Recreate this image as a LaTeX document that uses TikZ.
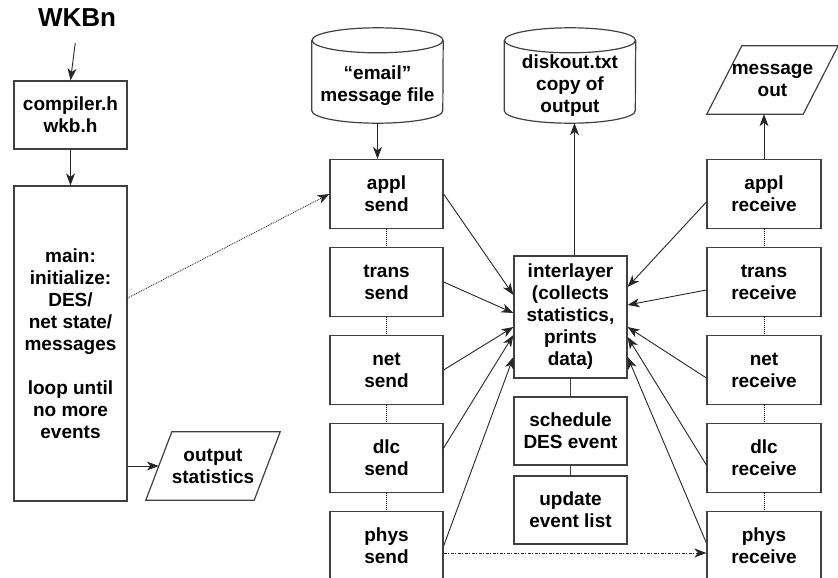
\documentclass[tikz,border=0pt]{standalone}
\usepackage{fontspec}
\setmainfont{Liberation Sans}
\usetikzlibrary{shapes.geometric,arrows.meta}
\begin{document}
\begin{tikzpicture}[x=1pt,y=-1pt]
	\tikzstyle{every node}=[font=\fontsize{19}{22}\selectfont\bfseries,align=center,inner sep=2pt]
	\tikzstyle{box}=[draw=black!75,line width=1.2pt,rectangle,minimum width=113pt,minimum height=69pt]
	\tikzstyle{io}=[rectangle,minimum height=68pt]
	\tikzstyle{store}=[rectangle,minimum width=131pt,minimum height=70pt]
	\tikzstyle{frame}=[draw=black!75,line width=1.2pt]
	\tikzstyle{flow}=[draw=black!85,line width=0.9pt,-{Stealth[length=12pt,width=9pt,inset=3.5pt]}]
	\tikzstyle{link}=[draw=black,line width=1pt,densely dotted]
	\useasboundingbox (0,0) rectangle (838,578);
	\node[font=\fontsize{26}{30}\selectfont\bfseries] (wkbn) at (77,18) {WKBn};
	\node[box,minimum height=68pt] (comp) at (70.5,115) {compiler.h\\wkb.h};
	\node[box,minimum height=315pt] (main) at (70.5,343.5) {main:\\initialize:\\DES/\\net state/\\messages\\[22pt]loop until\\no more\\events};
	\node[io,minimum width=108pt] (outstat) at (213,466) {output\\statistics};
	\draw[frame] ([xshift=-13pt]outstat.south west) -- ([xshift=13pt]outstat.north west) -- ([xshift=13pt]outstat.north east) -- ([xshift=-13pt]outstat.south east) -- cycle;
	\node[io,minimum width=96pt] (msgout) at (772.5,80) {message\\out};
	\draw[frame] ([xshift=-17.5pt]msgout.south west) -- ([xshift=17.5pt]msgout.north west) -- ([xshift=17.5pt]msgout.north east) -- ([xshift=-17.5pt]msgout.south east) -- cycle;
	\foreach \db/\x in {email/377.5,disk/570} {
		\node[store] (\db) at (\x,75.5) {};
		\draw[frame] (\db.north) ellipse [x radius=65.5pt,y radius=12.5pt];
		\draw[frame] (\db.north west) -- (\db.south west) arc [start angle=180,end angle=360,x radius=65.5pt,y radius=12.5pt] -- (\db.north east);
		\coordinate (\db-bot) at ([yshift=-12.5pt]\db.south);
	}
	\node (email-txt) at ([yshift=-10.5pt]email.center) {“email”\\message file};
	\node (disk-txt) at ([yshift=-10.5pt]disk.center) {diskout.txt\\copy of\\output};
	\foreach \lay [count=\i from 0] in {appl,trans,net,dlc,phys} {
		\node[box] (\lay-send) at (386.5,194+88*\i) {\lay\\send};
		\node[box,minimum width=114pt] (\lay-recv) at (764,194+88*\i) {\lay\\receive};
	}
	\node[box,minimum height=122pt] (inter) at (570.5,317) {interlayer\\(collects\\statistics,\\prints\\data)};
	\node[box,minimum height=68pt] (sched) at (570.5,431) {schedule\\DES event};
	\node[box,minimum height=68pt] (upd) at (570.5,510) {update\\event list};

	\draw[flow,shorten <=14pt] (wkbn.south) -- (comp.north);
	\draw[flow] (comp.south) -- (main.north);
	\draw[flow] (main.east |- outstat.west) -- (outstat.west);
	\draw[flow] (email-bot) -- (email-bot |- appl-send.north);
	\draw[flow] ([xshift=4pt]inter.north) -- ([xshift=4pt]inter.north |- disk-bot);
	\draw[flow] (appl-recv.north) -- (appl-recv.north |- msgout.south);
	\draw[flow,densely dotted] ([yshift=45.5pt]main.east) -- (appl-send.west);

	\foreach \a/\b in {appl/trans,trans/net,net/dlc,dlc/phys} {
		\draw[link] (\a-send.south) -- (\b-send.north);
		\draw[link] (\a-recv.south) -- (\b-recv.north);
	}
	\draw[draw=black!75,line width=1pt] (inter.south) -- (sched.north);
	\draw[draw=black!75,line width=1pt] (sched.south) -- (upd.north);

	\draw[flow] (appl-send.east) -- ([yshift=22pt]inter.west);
	\draw[flow] (trans-send.east) -- ([yshift=4pt]inter.west);
	\draw[flow] (net-send.east) -- ([yshift=-10pt]inter.west);
	\draw[flow] ([yshift=10pt]dlc-send.east) -- ([yshift=-18pt]inter.west);
	\draw[flow] (phys-send.east) -- ([yshift=-40pt]inter.west);
	\draw[flow] ([yshift=-8pt]appl-recv.west) -- ([yshift=30pt]inter.east);
	\draw[flow] ([yshift=-8pt]trans-recv.west) -- ([yshift=12pt]inter.east);
	\draw[flow] ([yshift=-8pt]net-recv.west) -- ([yshift=-10pt]inter.east);
	\draw[flow] ([yshift=-7pt]dlc-recv.west) -- ([yshift=-20pt]inter.east);
	\draw[flow] ([yshift=3pt]phys-recv.west) -- ([yshift=-40pt]inter.east);
	\draw[flow,dash pattern=on 3pt off 1.5pt on 1pt off 1.5pt] ([yshift=-7pt]phys-send.east) -- ([yshift=-7pt]phys-recv.west);
\end{tikzpicture}
\end{document}
